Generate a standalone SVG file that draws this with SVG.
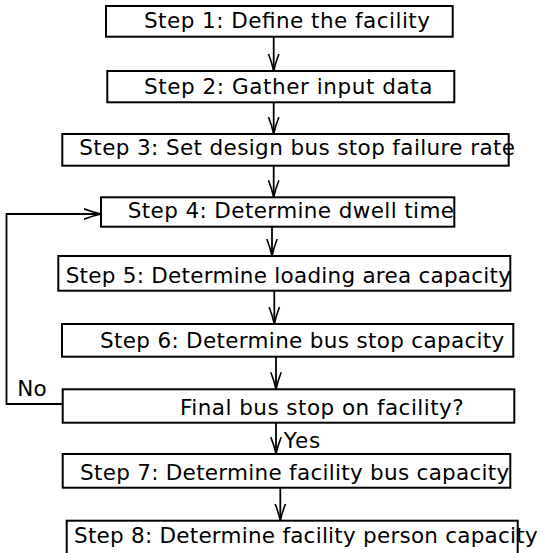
<svg xmlns="http://www.w3.org/2000/svg" width="543" height="553" viewBox="0 0 543 553">
<defs>
<style>
.box{fill:#fff;stroke:#000;stroke-width:2}
.lbl{font-family:"DejaVu Sans","Liberation Sans",Arial,sans-serif;font-size:21.5px;fill:#000}
.edge{fill:none;stroke:#000;stroke-width:1.8}
</style>
<marker id="arr" markerUnits="userSpaceOnUse" markerWidth="20" markerHeight="16" refX="17" refY="7" orient="auto">
<path d="M0,1.8 Q9,5.3 17,7 Q9,8.7 0,12.2" fill="none" stroke="#000" stroke-width="1.6"/>
</marker>
</defs>
<rect width="543" height="553" fill="#fff"/>
<g id="n1"><rect class="box" x="106" y="6" width="346.7" height="30.7"/><text class="lbl" x="144" y="28.3" textLength="286" lengthAdjust="spacing">Step 1: Define the facility</text></g>
<g id="n2"><rect class="box" x="107.3" y="71" width="347" height="31.3"/><text class="lbl" x="144" y="94.3" textLength="288.5" lengthAdjust="spacing">Step 2: Gather input data</text></g>
<g id="n3"><rect class="box" x="62.3" y="134" width="446.4" height="31.7"/><text class="lbl" x="79.3" y="155" textLength="435.7" lengthAdjust="spacing">Step 3: Set design bus stop failure rate</text></g>
<g id="n4"><rect class="box" x="101" y="197.3" width="353.3" height="29.4"/><text class="lbl" x="127.7" y="218.3" textLength="326.3" lengthAdjust="spacing">Step 4: Determine dwell time</text></g>
<g id="n5"><rect class="box" x="58.3" y="256" width="452" height="34.7"/><text class="lbl" x="65.7" y="283.3" textLength="445.3" lengthAdjust="spacing">Step 5: Determine loading area capacity</text></g>
<g id="n6"><rect class="box" x="62" y="324" width="451.3" height="32.7"/><text class="lbl" x="100" y="347.7" textLength="404.3" lengthAdjust="spacing">Step 6: Determine bus stop capacity</text></g>
<g id="nd"><rect class="box" x="62.7" y="389.3" width="451.6" height="33.4"/><text class="lbl" x="180" y="415" textLength="283.7" lengthAdjust="spacing">Final bus stop on facility?</text></g>
<g id="n7"><rect class="box" x="62.7" y="454" width="447.6" height="33.7"/><text class="lbl" x="80" y="480" textLength="429.3" lengthAdjust="spacing">Step 7: Determine facility bus capacity</text></g>
<g id="n8"><rect class="box" x="66.7" y="520.7" width="451" height="40"/><text class="lbl" x="74" y="543.3" textLength="463.7" lengthAdjust="spacing">Step 8: Determine facility person capacity</text></g>
<g id="edges">
<line class="edge" x1="273.7" y1="36.7" x2="273.7" y2="71" marker-end="url(#arr)"/>
<line class="edge" x1="273.7" y1="102.3" x2="273.7" y2="134" marker-end="url(#arr)"/>
<line class="edge" x1="273.7" y1="165.7" x2="273.7" y2="197.3" marker-end="url(#arr)"/>
<line class="edge" x1="272" y1="226.7" x2="272" y2="256" marker-end="url(#arr)"/>
<line class="edge" x1="274.3" y1="290.7" x2="274.3" y2="324" marker-end="url(#arr)"/>
<line class="edge" x1="276" y1="356.7" x2="276" y2="389.3" marker-end="url(#arr)"/>
<line class="edge" x1="276" y1="422.7" x2="276" y2="454" marker-end="url(#arr)"/>
<line class="edge" x1="280.3" y1="487.7" x2="280.3" y2="520.7" marker-end="url(#arr)"/>
<polyline class="edge" points="62.7,404 6.5,404 6.5,214 101,214" marker-end="url(#arr)"/>
<text class="lbl" x="17.3" y="396" textLength="29.4" lengthAdjust="spacing">No</text>
<text class="lbl" x="283.7" y="448.3" textLength="36.6" lengthAdjust="spacing">Yes</text>
</g>
</svg>
